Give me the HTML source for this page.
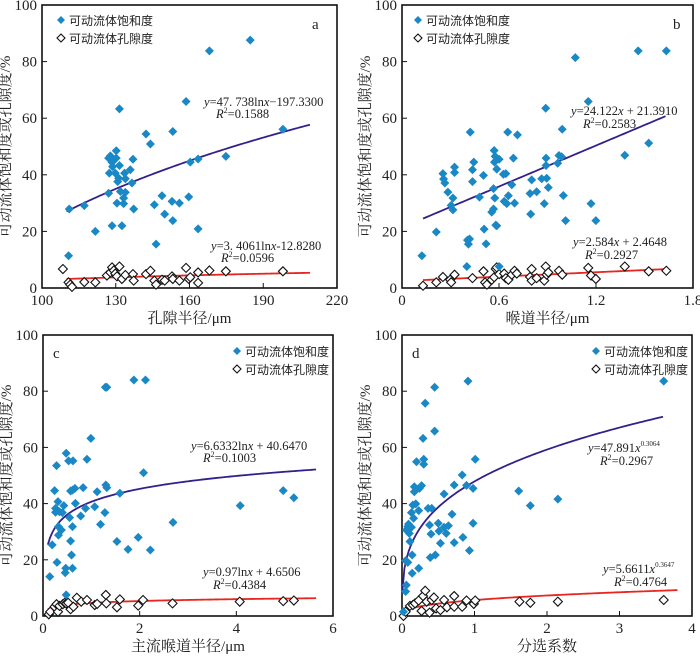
<!DOCTYPE html>
<html><head><meta charset="utf-8">
<style>
html,body{margin:0;padding:0;background:#fff;}
svg{display:block;font-family:"Liberation Serif","Noto Serif CJK SC",serif;}
.tk{font-size:15px;fill:#222;}
.lg{font-family:"Liberation Sans","Noto Sans CJK SC",sans-serif;font-size:12px;fill:#222;}
.eq{font-size:12.5px;fill:#222;}
.ttl{font-family:"Liberation Serif","Noto Serif CJK SC",serif;font-size:15px;fill:#222;}
</style></head>
<body>
<svg id="chart" width="700" height="656" viewBox="0 0 700 656" xmlns="http://www.w3.org/2000/svg"></svg>
<script>
// ---- Panel a data (pore radius) ----
const aSatX = [110.8,111.1,117.2,121.7,127.1,127.8,127.4,127.1,128.5,128.5,128.7,129.8,130.2,130.2,130.5,130.8,131.2,131.5,131.5,131.9,132.5,133.2,133.2,133.6,133.9,133.9,135.9,136.6,137,137.3,142.3,144.1,145.7,146.4,148.8,149.9,152.9,153.2,153.2,155.9,158.6,159.7,160.3,163.5,163.5,168.1,174.8,184.7,198];
const aSatY = [11.4,27.9,29.1,20,45.9,46.7,40.6,33.5,44.4,22,42.9,40.6,48.5,45.9,30,37.6,38.8,43.3,63.3,34.1,22,31.8,29.8,40.6,33.8,38.6,41.8,37.1,45.5,27.9,54.4,50.9,29.4,15.5,32.6,26.1,30.6,55.3,23.8,30,65.9,32.2,44.5,45.6,20.9,83.8,46.5,87.6,56.1];
const aPorX = [108.5,110.8,111.5,112.2,117.2,121.7,126.4,127.8,128.5,129.2,129.8,130.5,131.5,132.5,133.9,137,137.3,142.3,144.1,145.7,146.4,148.8,149.9,152.9,153.2,155.9,158.6,159.7,160.3,163.5,163.5,168.1,174.8,198];
const aPorY = [6.7,2,1.2,0.4,2.1,2,4.4,5.5,7.3,6.2,5.1,4.1,7.6,3.2,4.6,4.9,2.6,4.9,6.1,2.6,1.2,2.9,2.6,4.1,3.2,2.6,7.1,3.2,3.8,5.5,1.8,6.2,5.9,5.9];
const aXTicks = [100,130,160,190,220];
// ---- Panel b data (throat radius) ----
const bSatX = [0.123,0.212,0.253,0.257,0.265,0.284,0.304,0.315,0.315,0.325,0.325,0.405,0.411,0.418,0.422,0.436,0.436,0.444,0.479,0.504,0.508,0.52,0.555,0.566,0.566,0.57,0.572,0.574,0.576,0.58,0.586,0.586,0.601,0.627,0.632,0.642,0.648,0.654,0.658,0.679,0.689,0.696,0.714,0.792,0.796,0.802,0.833,0.864,0.88,0.889,0.891,0.891,0.895,0.905,0.963,0.971,0.987,0.991,0.998,1.012,1.072,1.152,1.169,1.199,1.378,1.461,1.526,1.635,0.401,0.601];
const bSatY = [11.4,19.8,40.4,38.5,37.1,33.9,29.2,31.8,27.6,42.7,40.8,16.9,15.5,17.3,55.1,37.6,41.8,44.5,32.1,39.8,20.8,15.6,26.8,27.9,35.1,48.6,44.5,31.8,46.5,22.2,22,42,45.5,40.2,30.6,40.4,29.8,55.1,32.6,36.5,45.9,30,54.1,33.4,26.1,38.2,34,38.6,29.8,63.5,45.9,43.3,38.8,35.5,44.1,46.8,46.4,56.1,32.7,23.8,81.4,65.9,29.8,23.8,46.9,83.8,51.2,83.8,7.6,7.6];
const bPorX = [0.13,0.212,0.253,0.298,0.304,0.325,0.436,0.504,0.514,0.525,0.555,0.57,0.58,0.586,0.601,0.632,0.642,0.658,0.679,0.696,0.71,0.792,0.802,0.802,0.833,0.88,0.889,0.895,0.905,0.971,0.991,1.152,1.169,1.199,1.378,1.526,1.635];
const bPorY = [0.8,2,3.9,2.9,2,4.7,3.5,5.9,2,1.2,2.9,3.8,6.7,7.3,4.9,5.1,3.5,2.9,4.7,6.1,5.1,3.9,6.7,2.6,3.5,2.6,7.6,4.7,5.5,6.1,4.7,7.1,4.4,3.2,7.6,5.9,6.1];
const bXTicks = [0,0.6,1.2,1.8];
// ---- Panel c data (main throat radius) ----
const cSatX = [0.14,0.19,0.24,0.28,0.26,0.26,0.29,0.31,0.32,0.32,0.34,0.38,0.4,0.43,0.46,0.47,0.48,0.48,0.53,0.55,0.57,0.57,0.59,0.61,0.61,0.61,0.62,0.66,0.67,0.78,0.83,0.88,0.91,0.99,1.07,1.12,1.19,1.28,1.29,1.32,1.3,1.32,1.53,1.59,1.76,1.88,1.97,2.08,2.12,2.22,2.69,4.08,4.97,5.19];
const cSatY = [14,25.3,44.6,53.5,36.9,38.3,19.1,40.7,28.8,31.8,37.1,30.6,36.8,39.3,15.4,17,57.9,7.5,55.2,35,26.7,44.5,21.7,31.8,44.8,17,55.2,45.4,40.1,35.6,45.7,38.3,55.8,63.2,38.9,44.2,32.6,36.8,81.4,81.4,46.6,45.7,26.5,43.7,23.7,84,28,51,84,23.5,33.3,39.3,44.6,42.1];
const cPorX = [0.12,0.15,0.24,0.28,0.31,0.34,0.41,0.45,0.48,0.52,0.57,0.63,0.7,0.79,0.91,1.07,1.12,1.3,1.31,1.53,1.59,1.97,2.07,2.68,4.07,4.97,5.19];
const cPorY = [0.6,1.5,3.3,4.2,1.5,3.6,4.2,4.7,4.5,4.7,2.4,3.3,6.5,5.1,5.7,3.9,4.3,7.5,4.5,3.1,5.9,3.7,5.7,4.5,5.1,5.3,5.5];
const cXTicks = [0,2,4,6];
// ---- Panel d data (sorting coefficient) ----
const dSatX = [0.02,0.05,0.06,0.05,0.08,0.06,0.08,0.09,0.1,0.11,0.13,0.14,0.13,0.14,0.15,0.16,0.17,0.17,0.19,0.2,0.23,0.23,0.24,0.27,0.29,0.3,0.3,0.32,0.36,0.38,0.39,0.4,0.41,0.45,0.45,0.46,0.5,0.51,0.53,0.58,0.58,0.61,0.64,0.69,0.72,0.72,0.83,0.84,0.89,0.91,0.93,0.98,0.98,1.01,1.61,1.77,2.15,3.61];
const dSatY = [1.5,8.7,11,19.7,19.1,30.6,31.8,32.7,29.4,26.5,31.6,21.7,36.8,15.2,39.5,34.8,46,44.2,39.9,54.9,37.5,17,45.4,46.4,63.2,55.8,54,75.7,38.3,32.4,20.8,29.2,38.3,65.8,81.4,21.7,33,30.2,25.9,43.4,31.6,29.4,32.1,36.2,46.6,26.1,50.2,28,46.5,83.6,23.3,45.4,33,55.8,44.5,39.3,41.6,83.6];
const dPorX = [0.02,0.05,0.11,0.15,0.18,0.23,0.27,0.29,0.32,0.34,0.38,0.41,0.44,0.47,0.53,0.58,0.62,0.72,0.72,0.83,0.89,0.99,1.01,1.62,1.77,2.15,3.61];
const dPorY = [0,1.5,3.6,3.9,4.5,5.5,1.8,7.1,9,5.1,1.2,5.7,6.6,2.7,2.1,5.7,3.1,7.1,3.3,3.3,5.5,4.3,5.5,5.1,4.7,5.1,5.7];
const dXTicks = [0,1,2,3,4];
const yTicks = [0,20,40,60,80,100];

const NS = "http://www.w3.org/2000/svg";
const svg = document.getElementById('chart');
const BLUE = "#1b88c6", PURPLE = "#34208a", RED = "#e8261f";
function mk(tag, attrs, parent){ const e=document.createElementNS(NS,tag); for(const k in attrs) e.setAttribute(k,attrs[k]); (parent||svg).appendChild(e); return e; }

function panel(p){
  const g = mk('g',{});
  
  
  const sx = v => p.x0 + (v - p.xmin)/(p.xmax - p.xmin)*(p.x1 - p.x0);
  const sy = v => p.y1 - v/100*(p.y1 - p.y0);
  const fr = mk('rect',{x:p.x0,y:p.y0,width:p.x1-p.x0,height:p.y1-p.y0,fill:'none',stroke:'#111','stroke-width':1.6},g);
  
  
  yTicks.forEach(t=>{
    const y=sy(t);
    mk('line',{x1:p.x0,y1:y,x2:p.x0+5,y2:y,stroke:'#111','stroke-width':1},g);
    const tx=mk('text',{x:p.x0-5,y:y+5,'text-anchor':'end','class':'tk'},g);
    tx.textContent=t;
    
    
  });
  p.xticks.forEach(t=>{
    const x=sx(t);
    mk('line',{x1:x,y1:p.y1,x2:x,y2:p.y1-5,stroke:'#111','stroke-width':1},g);
    const tx=mk('text',{x:x,y:p.y1+17,'text-anchor':'middle','class':'tk'},g);
    tx.textContent=t;
    
    
  });
  const xt=mk('text',{x:(p.x0+p.x1)/2,y:p.y1+35,'text-anchor':'middle','class':'ttl'},g);
  xt.textContent=p.xlabel;
  
  
  const ytx=p.x0-32, yty=(p.y0+p.y1)/2;
  const yt=mk('text',{x:ytx,y:yty,'text-anchor':'middle','class':'ttl',transform:'rotate(-90 '+ytx+' '+yty+')'},g);
  yt.textContent='可动流体饱和度或孔隙度/%';
  
  
  function curve(f, a, b, color, name){
    let d='';
    for(let i=0;i<=120;i++){ const v=a+(b-a)*i/120; d+=(i?'L':'M')+sx(v).toFixed(2)+','+sy(f(v)).toFixed(2); }
    const c=mk('path',{d:d,fill:'none',stroke:color,'stroke-width':1.8},g);
    
    
  }
  curve(p.fSat, p.fa, p.fb, PURPLE, 'saturation-fit-curve');
  curve(p.fPor, p.pa, p.pb, RED, 'porosity-fit-curve');
  p.porX.forEach((v,i)=>{
    const x=sx(v), y=sy(p.porY[i]), r=4.5;
    const m=mk('polygon',{points:`${x},${y-r} ${x+r},${y} ${x},${y+r} ${x-r},${y}`,fill:'#fff',stroke:'#111','stroke-width':1.1},g);
    
    
  });
  p.satX.forEach((v,i)=>{
    const x=sx(v), y=sy(p.satY[i]), r=4.5;
    const m=mk('polygon',{points:`${x},${y-r} ${x+r},${y} ${x},${y+r} ${x-r},${y}`,fill:BLUE},g);
    
    
  });
  const L=p.leg;
  const l1=mk('polygon',{points:`${L.x},${L.y-4} ${L.x+4},${L.y} ${L.x},${L.y+4} ${L.x-4},${L.y}`,fill:BLUE},g);
  
  
  const lt1=mk('text',{x:L.x+8,y:L.y+5,'class':'lg'},g);
  lt1.textContent='可动流体饱和度';
  
  
  const ly=L.y+18;
  const l2=mk('polygon',{points:`${L.x},${ly-4} ${L.x+4},${ly} ${L.x},${ly+4} ${L.x-4},${ly}`,fill:'#fff',stroke:'#111','stroke-width':1.1},g);
  
  
  const lt2=mk('text',{x:L.x+8,y:ly+5,'class':'lg'},g);
  lt2.textContent='可动流体孔隙度';
  
  
  const pl=mk('text',{x:p.lab[0],y:p.lab[1],'class':'tk','font-size':'20'},g);
  pl.textContent=p.id;
  
  
  p.eqs.forEach(e=>{
    const t=mk('text',{x:e[0],y:e[1],'class':'eq'},g);
    t.innerHTML=e[2];
    
    
  });
}

panel({id:'a',x0:42,x1:337,y0:5,y1:288,xmin:100,xmax:220,xticks:aXTicks,xlabel:'孔隙半径/μm',
  satX:aSatX,satY:aSatY,porX:aPorX,porY:aPorY,
  fSat:x=>47.738*Math.log(x)-197.33,fa:110,fb:209,fPor:x=>3.4061*Math.log(x)-12.828,pa:110,pb:209,
  leg:{x:61,y:20},lab:[312,29],
  eqs:[[204,106,'<tspan font-style="italic">y</tspan>=47. 738ln<tspan font-style="italic">x</tspan>−197.3300'],[216,118,'<tspan font-style="italic">R</tspan><tspan font-size="8" dy="-5">2</tspan><tspan dy="5">=0.1588</tspan>'],
       [211,250,'<tspan font-style="italic">y</tspan>=3. 4061ln<tspan font-style="italic">x</tspan>-12.8280'],[221,262,'<tspan font-style="italic">R</tspan><tspan font-size="8" dy="-5">2</tspan><tspan dy="5">=0.0596</tspan>']]});
panel({id:'b',x0:402,x1:693,y0:5,y1:288,xmin:0,xmax:1.8,xticks:bXTicks,xlabel:'喉道半径/μm',
  satX:bSatX,satY:bSatY,porX:bPorX,porY:bPorY,
  fSat:x=>24.122*x+21.391,fa:0.13,fb:1.63,fPor:x=>2.584*x+2.4648,pa:0.13,pb:1.63,
  leg:{x:418,y:20},lab:[673,29],
  eqs:[[571,115,'<tspan font-style="italic">y</tspan>=24.122<tspan font-style="italic">x</tspan> + 21.3910'],[583,128,'<tspan font-style="italic">R</tspan><tspan font-size="8" dy="-5">2</tspan><tspan dy="5">=0.2583</tspan>'],
       [573,246,'<tspan font-style="italic">y</tspan>=2.584<tspan font-style="italic">x</tspan> + 2.4648'],[585,259,'<tspan font-style="italic">R</tspan><tspan font-size="8" dy="-5">2</tspan><tspan dy="5">=0.2927</tspan>']]});
panel({id:'c',x0:43,x1:333,y0:335,y1:616,xmin:0,xmax:6,xticks:cXTicks,xlabel:'主流喉道半径/μm',
  satX:cSatX,satY:cSatY,porX:cPorX,porY:cPorY,
  fSat:x=>6.6332*Math.log(x)+40.647,fa:0.1,fb:5.65,fPor:x=>0.97*Math.log(x)+4.6506,pa:0.1,pb:5.65,
  leg:{x:237,y:351},lab:[53,358],
  eqs:[[191,450,'<tspan font-style="italic">y</tspan>=6.6332ln<tspan font-style="italic">x</tspan> + 40.6470'],[203,462,'<tspan font-style="italic">R</tspan><tspan font-size="8" dy="-5">2</tspan><tspan dy="5">=0.1003</tspan>'],
       [203,576,'<tspan font-style="italic">y</tspan>=0.97ln<tspan font-style="italic">x</tspan> + 4.6506'],[213,589,'<tspan font-style="italic">R</tspan><tspan font-size="8" dy="-5">2</tspan><tspan dy="5">=0.4384</tspan>']]});
panel({id:'d',x0:402,x1:692,y0:335,y1:616,xmin:0,xmax:4,xticks:dXTicks,xlabel:'分选系数',
  satX:dSatX,satY:dSatY,porX:dPorX,porY:dPorY,
  fSat:x=>47.891*Math.pow(x,0.3064),fa:0.003,fb:3.6,fPor:x=>5.6611*Math.pow(x,0.3647),pa:0.001,pb:3.8,
  leg:{x:596,y:351},lab:[412,358],
  eqs:[[588,452,'<tspan font-style="italic">y</tspan>=47.891<tspan font-style="italic">x</tspan><tspan font-size="7" dy="-6">0.3064</tspan>'],[600,465,'<tspan font-style="italic">R</tspan><tspan font-size="8" dy="-5">2</tspan><tspan dy="5">=0.2967</tspan>'],
       [603,573,'<tspan font-style="italic">y</tspan>=5.6611<tspan font-style="italic">x</tspan><tspan font-size="7" dy="-6">0.3647</tspan>'],[614,586,'<tspan font-style="italic">R</tspan><tspan font-size="8" dy="-5">2</tspan><tspan dy="5">=0.4764</tspan>']]});
</script>
</body></html>
